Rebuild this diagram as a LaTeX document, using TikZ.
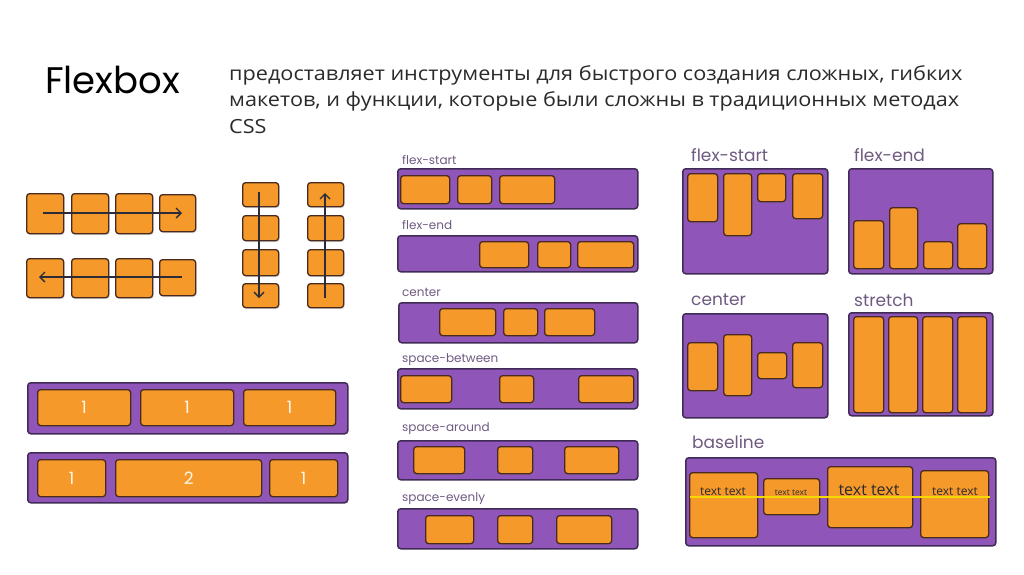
\documentclass[tikz,border=0pt]{standalone}
\usepackage{fontspec}
\setmainfont{Open Sans}
\newfontfamily\popp{Poppins}
\newfontfamily\parafont[FakeStretch=1.11]{Open Sans}
\usetikzlibrary{arrows.meta,shadows}
\definecolor{orng}{HTML}{F59A2A}
\definecolor{brn}{HTML}{4A2A1E}
\definecolor{purp}{HTML}{8F55B8}
\definecolor{purpdk}{HTML}{3F2B55}
\definecolor{lbl}{HTML}{6E5A80}
\definecolor{arrc}{HTML}{2B2B3A}
\definecolor{ylw}{HTML}{F5D800}
\definecolor{txt}{HTML}{2A2A2A}
\tikzset{
  ob/.style={fill=orng, draw=brn, line width=1.3pt, rounded corners=3pt,
    drop shadow={shadow xshift=1pt, shadow yshift=-1.5pt, opacity=0.25}},
  pb/.style={fill=purp, draw=purpdk, line width=1.5pt, rounded corners=3pt},
  arr/.style={draw=arrc, line width=1.4pt, -{Straight Barb[length=5pt,width=10pt]}},
  smlbl/.style={anchor=west, text=lbl, font=\popp\fontsize{12}{12}\selectfont, inner sep=0pt},
  biglbl/.style={anchor=west, text=lbl, font=\popp\fontsize{17}{18}\selectfont, inner sep=0pt},
  tt/.style={anchor=base, text=txt, inner sep=0pt}
}
\newcommand\nm[1]{{\popp\color{white!90!orng}\fontsize{17}{18}\selectfont #1}}
\newcommand\bx[7][ob]{%
  \pgfmathsetmacro\bw{#5-#3}\pgfmathsetmacro\bh{#6-#4}%
  \node[#1, minimum width=\bw pt, minimum height=\bh pt, inner sep=0pt, anchor=north west] (#2) at (#3,#4) {#7};}
\begin{document}
\begin{tikzpicture}[x=1pt,y=-1pt]
\useasboundingbox (0,0) rectangle (1024,574);
% title and text
\node[anchor=base west, inner sep=0pt, font=\popp\fontsize{37}{40}\selectfont, text=black] (title) at (45,93) {Flexbox};
\node[anchor=north west, inner sep=0pt, align=left, text=txt, font=\parafont\fontsize{19.5}{26.5}\selectfont] (para) at (229,65)
 {предоставляет инструменты для быстрого создания сложных, гибких\\
  макетов, и функции, которые были сложны в традиционных методах\\
  CSS};
% horizontal rows
\bx{r1a}{26}{193}{63}{233}{}\bx{r1b}{71}{193}{108}{233}{}\bx{r1c}{115}{193}{152}{233}{}\bx{r1d}{159}{194}{195}{231}{}
\bx{r2a}{26}{258}{63}{297}{}\bx{r2b}{71}{258}{108}{297}{}\bx{r2c}{115}{258}{152}{297}{}\bx{r2d}{159}{259}{195}{295}{}
\coordinate (h1s) at (43,213); \coordinate (h1e) at (182,213);
\coordinate (h2s) at (182,277); \coordinate (h2e) at (39,277);
\draw[arr] (h1s) -- (h1e);
\draw[arr] (h2s) -- (h2e);
% vertical columns
\bx{c1a}{242}{182}{278}{206}{}\bx{c1b}{242}{215}{278}{240}{}\bx{c1c}{242}{249}{278}{275}{}\bx{c1d}{242}{283}{278}{307}{}
\bx{c2a}{307}{182}{343}{206}{}\bx{c2b}{307}{215}{343}{240}{}\bx{c2c}{307}{249}{343}{275}{}\bx{c2d}{307}{283}{343}{307}{}
\coordinate (v1s) at (259,192); \coordinate (v1e) at (259,298);
\coordinate (v2s) at (325,298); \coordinate (v2e) at (325,193);
\draw[arr] (v1s) -- (v1e);
\draw[arr] (v2s) -- (v2e);
% flex-grow bars
\bx[pb]{g1}{27}{382}{347}{433}{}
\bx{g1a}{37}{389}{130}{425}{\nm{1}}
\bx{g1b}{140}{389}{233}{425}{\nm{1}}
\bx{g1c}{243}{389}{335}{425}{\nm{1}}
\bx[pb]{g2}{27}{452}{347}{502}{}
\bx{g2a}{37}{459}{105}{496}{\nm{1}}
\bx{g2b}{115}{459}{261}{496}{\nm{2}}
\bx{g2c}{269}{459}{337}{496}{\nm{1}}
% justify-content column
\node[smlbl] (l1) at (402,160) {flex-start};
\bx[pb]{j1}{397}{168}{637}{208}{}
\bx{j1a}{400}{175}{449}{203}{}\bx{j1b}{457}{175}{491}{203}{}\bx{j1c}{499}{175}{554}{203}{}
\node[smlbl] (l2) at (402,225) {flex-end};
\bx[pb]{j2}{397}{235}{637}{271}{}
\bx{j2a}{479}{241}{528}{267}{}\bx{j2b}{537}{241}{570}{267}{}\bx{j2c}{577}{241}{633}{267}{}
\node[smlbl] (l3) at (402,292) {center};
\bx[pb]{j3}{398}{302}{637}{342}{}
\bx{j3a}{439}{308}{495}{335}{}\bx{j3b}{503}{308}{537}{335}{}\bx{j3c}{544}{308}{594}{335}{}
\node[smlbl] (l4) at (402,360) {space-between};
\bx[pb]{j4}{397}{368}{637}{408}{}
\bx{j4a}{400}{375}{451}{402}{}\bx{j4b}{499}{375}{533}{402}{}\bx{j4c}{578}{375}{633}{402}{}
\node[smlbl] (l5) at (402,429) {space-around};
\bx[pb]{j5}{397}{440}{637}{479}{}
\bx{j5a}{413}{446}{464}{473}{}\bx{j5b}{497}{446}{532}{473}{}\bx{j5c}{564}{446}{618}{473}{}
\node[smlbl] (l6) at (402,499) {space-evenly};
\bx[pb]{j6}{397}{508}{637}{548}{}
\bx{j6a}{425}{515}{473}{543}{}\bx{j6b}{497}{515}{532}{543}{}\bx{j6c}{556}{515}{611}{543}{}
% align-items
\node[biglbl] (a1l) at (691,155) {flex-start};
\bx[pb]{a1}{682}{168}{827}{273}{}
\bx{a1a}{687}{173}{717}{221}{}\bx{a1b}{723}{173}{751}{235}{}\bx{a1c}{757}{173}{785}{201}{}\bx{a1d}{792}{173}{822}{218}{}
\node[biglbl] (a2l) at (854,155) {flex-end};
\bx[pb]{a2}{848}{168}{992}{273}{}
\bx{a2a}{853}{220}{883}{268}{}\bx{a2b}{889}{207}{917}{268}{}\bx{a2c}{923}{241}{952}{268}{}\bx{a2d}{957}{223}{986}{268}{}
\node[biglbl] (a3l) at (691,300) {center};
\bx[pb]{a3}{682}{313}{827}{417}{}
\bx{a3a}{687}{342}{717}{390}{}\bx{a3b}{723}{334}{751}{395}{}\bx{a3c}{757}{352}{786}{378}{}\bx{a3d}{792}{342}{822}{387}{}
\node[biglbl] (a4l) at (854,300) {stretch};
\bx[pb]{a4}{848}{312}{992}{415}{}
\bx{a4a}{853}{316}{883}{412}{}\bx{a4b}{888}{316}{917}{412}{}\bx{a4c}{922}{316}{952}{412}{}\bx{a4d}{957}{316}{986}{412}{}
\node[biglbl] (a5l) at (692,442) {baseline};
\bx[pb]{a5}{685}{457}{995}{545}{}
\bx{a5a}{689}{472}{757}{537}{}\bx{a5b}{763}{478}{819}{514}{}\bx{a5c}{827}{466}{912}{527}{}\bx{a5d}{920}{470}{988}{537}{}
\coordinate (bl1) at (690,497); \coordinate (bl2) at (990,497);
\draw[ylw, line width=2pt] (bl1) -- (bl2);
\node[tt, font=\fontsize{12}{12}\selectfont] (t1) at (723,495) {text text};
\node[tt, font=\fontsize{8.5}{9}\selectfont] (t2) at (791,495) {text text};
\node[tt, font=\fontsize{16}{16}\selectfont] (t3) at (869,495) {text text};
\node[tt, font=\fontsize{12}{12}\selectfont] (t4) at (955,495) {text text};
\end{tikzpicture}
\end{document}
